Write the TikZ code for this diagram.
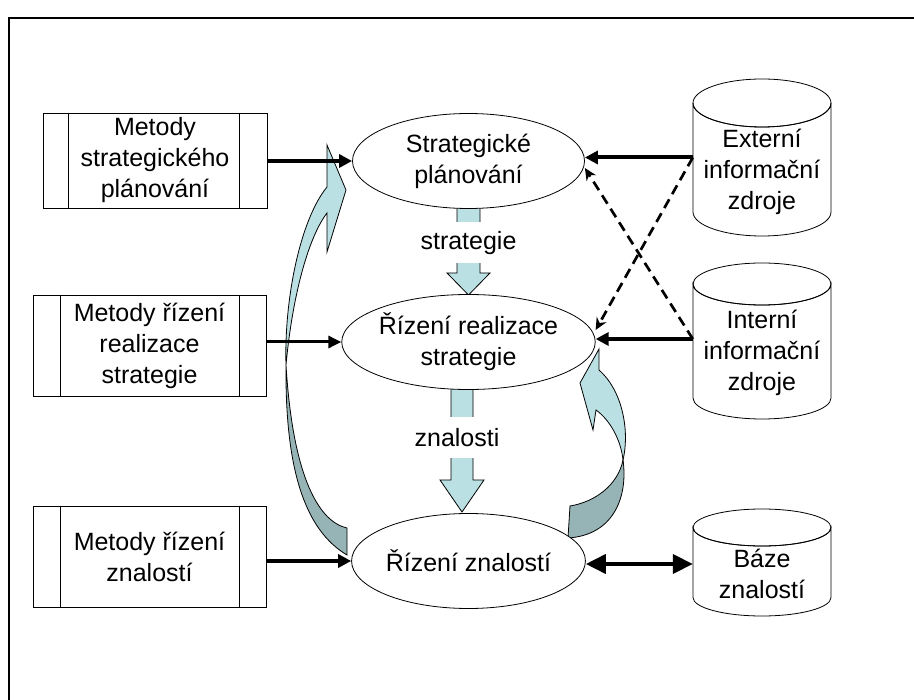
\documentclass[tikz,border=0pt]{standalone}
\usepackage{fontspec}
\setmainfont{Liberation Sans}
\usetikzlibrary{shapes.geometric,arrows.meta}
\definecolor{lblue}{HTML}{BBE0E3}
\definecolor{dblue}{HTML}{96B4B6}
\begin{document}
\begin{tikzpicture}[x=1pt,y=-1pt,
  txt/.style={font=\fontsize{25}{31}\selectfont, align=center},
  methodbox/.style={txt, draw, line width=0.8pt, fill=white, inner sep=0pt},
  process/.style={txt, ellipse, draw, line width=0.8pt, fill=white, minimum width=232pt, minimum height=95pt, inner sep=0pt},
  store/.style={minimum width=138pt, inner sep=0pt},
  cylline/.style={line width=0.8pt, fill=white},
  blockarrow/.style={line width=0.8pt, fill=lblue, line join=miter},
  darkpart/.style={line width=0.8pt, fill=dblue},
  lbl/.style={txt, fill=white, inner sep=0pt, minimum height=41pt},
  conn/.style={line width=4pt, -{Triangle[length=13pt,width=13pt]}},
  connthin/.style={line width=3pt, -{Triangle[length=13pt,width=12pt]}},
  dashconn/.style={line width=2.7pt, dash pattern=on 10pt off 6pt, -{Stealth[length=12pt,width=11pt]}},
  bothconn/.style={line width=4pt, {Triangle[length=20pt,width=19pt]}-{Triangle[length=20pt,width=19pt]}}
]
\useasboundingbox (0,0) rectangle (914,700);
% frame
\draw[line width=2pt] (9,710) -- (9,18) -- (920,18);

% straight block arrows (behind ellipses)
\draw[blockarrow] (457,200) -- (457,273) -- (447,273) -- (468.5,295) -- (490,273) -- (480,273) -- (480,200) -- cycle;
\draw[blockarrow] (451,380) -- (451,480) -- (440,480) -- (462,512) -- (484,480) -- (473,480) -- (473,380) -- cycle;

% left curved arrow
\draw[darkpart] (286,365) .. controls (285,470) and (305,530) .. (347,555) -- (347,528) .. controls (320,522) and (293,480) .. (286,365) -- cycle;
\draw[blockarrow] (327,145) -- (346,190) -- (327,252) -- (327,213) .. controls (310,235) and (293,290) .. (286,365) .. controls (284,300) and (300,220) .. (327,187) -- cycle;

% right curved arrow
\draw[darkpart] (623,460) .. controls (628,495) and (615,535) .. (568,538) -- (570,506) .. controls (595,502) and (618,485) .. (623,460) -- cycle;
\draw[blockarrow] (599,349) -- (580,383) -- (593,430) -- (596,410) .. controls (610,420) and (621,440) .. (623,460) .. controls (630,430) and (622,390) .. (599,370) -- cycle;

% method boxes
\node[methodbox, minimum width=224pt, minimum height=95pt] (m1) at (155,160.5) {Metody\\strategického\\plánování};
\node[methodbox, minimum width=233pt, minimum height=101pt] (m2) at (149.5,345.5) {Metody řízení\\realizace\\strategie};
\node[methodbox, minimum width=233pt, minimum height=101pt] (m3) at (149.5,556.5) {Metody řízení\\znalostí};
\draw[line width=0.8pt] ([xshift=26pt]m1.north west) -- ([xshift=26pt]m1.south west);
\draw[line width=0.8pt] ([xshift=-28pt]m1.north east) -- ([xshift=-28pt]m1.south east);
\draw[line width=0.8pt] ([xshift=28pt]m2.north west) -- ([xshift=28pt]m2.south west);
\draw[line width=0.8pt] ([xshift=-27pt]m2.north east) -- ([xshift=-27pt]m2.south east);
\draw[line width=0.8pt] ([xshift=28pt]m3.north west) -- ([xshift=28pt]m3.south west);
\draw[line width=0.8pt] ([xshift=-27pt]m3.north east) -- ([xshift=-27pt]m3.south east);

% process ellipses
\node[process] (sp) at (468.5,161) {Strategické\\plánování};
\node[process] (rr) at (468.5,342) {Řízení realizace\\strategie};
\node[process] (rz) at (468.5,561) {Řízení znalostí};

% labels on block arrows
\node[lbl] (lst) at (468.5,243) {strategie};
\node[lbl] (lzn) at (457,438) {znalosti};

% cylinders
\draw[cylline] (693,103) -- (693,212) arc[start angle=180,end angle=0,x radius=69,y radius=24] -- (831,103) arc[start angle=0,end angle=180,x radius=69,y radius=24] -- cycle;
\draw[line width=0.8pt] (762,103) ellipse [x radius=69, y radius=24];
\draw[cylline] (693,284) -- (693,398) arc[start angle=180,end angle=0,x radius=69,y radius=21] -- (831,284) arc[start angle=0,end angle=180,x radius=69,y radius=21] -- cycle;
\draw[line width=0.8pt] (762,284) ellipse [x radius=69, y radius=21];
\draw[cylline] (693,527.5) -- (693,597.5) arc[start angle=180,end angle=0,x radius=69,y radius=18.5] -- (831,527.5) arc[start angle=0,end angle=180,x radius=69,y radius=18.5] -- cycle;
\draw[line width=0.8pt] (762,527.5) ellipse [x radius=69, y radius=18.5];

\node[store, minimum height=157pt] (ext) at (762,157.5) {};
\node[store, minimum height=156pt] (int) at (762,339) {};
\node[store, minimum height=107pt] (baze) at (762,564) {};
\node[txt] (exttxt) at (762,172) {Externí\\informační\\zdroje};
\node[txt] (inttxt) at (762,353) {Interní\\informační\\zdroje};
\node[txt] (bazetxt) at (762,574) {Báze\\znalostí};

% connectors
\draw[conn] (m1.east |- sp.west) -- (sp.west);
\draw[connthin] (m2.east |- rr.west) -- (rr.west);
\draw[conn] (m3.east |- rz.west) -- (rz.west);
\draw[conn] (ext.west) -- (ext.west -| sp.east);
\draw[conn] (int.west) -- (int.west -| rr.east);
\draw[dashconn] (ext.west) -- ([yshift=12pt]rr.east);
\draw[dashconn] (int.west) -- ([yshift=-7pt]sp.east);
\draw[bothconn] (rz.east |- baze.west) -- (baze.west);
\end{tikzpicture}
\end{document}
